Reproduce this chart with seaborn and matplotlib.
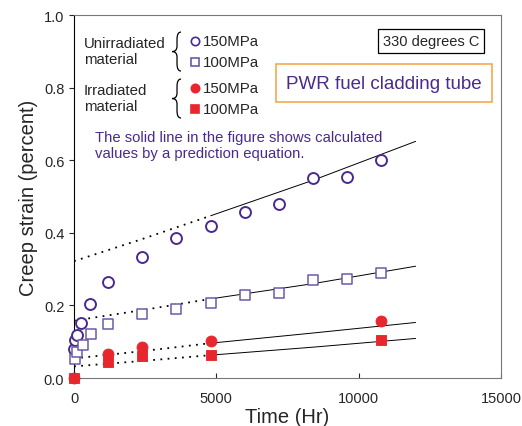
import pandas as pd
import matplotlib.pyplot as plt
import seaborn as sns
import numpy as np
from matplotlib.path import Path
from matplotlib.patches import PathPatch

# measured creep strain (percent) vs time (hr)
t_unirr_150 = [0, 50, 100, 250, 550, 1200, 2400, 3600, 4800, 6000, 7200, 8400, 9600, 10800]
e_unirr_150 = [0.080, 0.105, 0.118, 0.152, 0.205, 0.265, 0.333, 0.386, 0.419, 0.458, 0.479, 0.551, 0.555, 0.600]
t_unirr_100 = [50, 100, 300, 600, 1200, 2400, 3600, 4800, 6000, 7200, 8400, 9600, 10800]
e_unirr_100 = [0.052, 0.073, 0.092, 0.121, 0.148, 0.175, 0.189, 0.208, 0.229, 0.235, 0.271, 0.274, 0.290]
t_irr_150 = [0, 1200, 2400, 4800, 10800]
e_irr_150 = [0.0, 0.066, 0.086, 0.103, 0.158]
t_irr_100 = [0, 1200, 2400, 4800, 10800]
e_irr_100 = [0.0, 0.043, 0.061, 0.063, 0.105]

# prediction equation curves (dotted below 4800 hr, solid above)
t_pred_lo = [0, 2400, 4800]
t_pred_hi = [4800, 8400, 12000]
pred_lo = {'u150': [0.322, 0.383, 0.447], 'u100': [0.158, 0.187, 0.218],
           'i150': [0.054, 0.074, 0.096], 'i100': [0.032, 0.047, 0.063]}
pred_hi = {'u150': [0.447, 0.545, 0.652], 'u100': [0.218, 0.260, 0.308],
           'i150': [0.096, 0.124, 0.153], 'i100': [0.063, 0.085, 0.109]}

purple = '#4a2a8e'
purple_sq = '#6b5aa8'
red = '#e8262d'

sns.set_style("ticks")
plt.rcParams['font.family'] = ['Liberation Sans', 'DejaVu Sans']

fig = plt.figure(figsize=(5.22, 4.27), dpi=100)
ax = fig.add_axes([0.1418, 0.1124, 0.818, 0.850])

for key in pred_lo:
    sns.lineplot(x=t_pred_lo, y=pred_lo[key], ax=ax, color='black', lw=1.3,
                 linestyle=(0, (1, 3)))
    sns.lineplot(x=t_pred_hi, y=pred_hi[key], ax=ax, color='black', lw=0.7)

ms = 62
sns.scatterplot(x=t_unirr_150, y=e_unirr_150, ax=ax, marker='o', s=ms,
                facecolor='white', edgecolor=purple, linewidth=1.4, zorder=3, clip_on=False)
sns.scatterplot(x=t_unirr_100, y=e_unirr_100, ax=ax, marker='s', s=ms,
                facecolor='white', edgecolor=purple_sq, linewidth=1.1, zorder=3, clip_on=False)
sns.scatterplot(x=t_irr_100, y=e_irr_100, ax=ax, marker='s', s=ms,
                color=red, edgecolor=red, zorder=3, clip_on=False)
sns.scatterplot(x=t_irr_150, y=e_irr_150, ax=ax, marker='o', s=ms,
                color=red, edgecolor=red, zorder=3, clip_on=False)

ax.set_xlim(0, 15000)
ax.set_ylim(0, 1.0)
ax.set_xticks([0, 5000, 10000, 15000])
ax.set_yticks([0, 0.2, 0.4, 0.6, 0.8, 1.0])
ax.set_yticklabels(['0.0', '0.2', '0.4', '0.6', '0.8', '1.0'])
ax.tick_params(axis='x', direction='in', labelsize=10.5, pad=9)
ax.tick_params(axis='y', direction='out', labelsize=10.5)
for s in ['top', 'right', 'bottom']:
    ax.spines[s].set_color('#777777')
ax.spines['left'].set_color('black')
ax.set_xlabel('Time (Hr)', fontsize=14.5, labelpad=2)
ax.set_ylabel('Creep strain (percent)', fontsize=14.5)

# hand-drawn legend
tr = ax.transAxes
def fx(px): return (px - 74) / 427
def fy(py): return (379 - py) / 363

def brace(px, top, bot):
    x0, x1 = fx(px), fx(px - 5)
    y0, y1 = fy(top), fy(bot)
    ym = (y0 + y1) / 2
    w = fx(px + 4) - fx(px)
    verts = [(x0 + w, y0), (x0, y0), (x0, y0 - 0.02),
             (x0, ym + 0.015), (x0, ym), (x1, ym),
             (x0, ym), (x0, ym - 0.015),
             (x0, y1 + 0.02), (x0, y1), (x0 + w, y1)]
    codes = [Path.MOVETO, Path.CURVE3, Path.CURVE3,
             Path.LINETO, Path.CURVE3, Path.CURVE3,
             Path.CURVE3, Path.CURVE3,
             Path.LINETO, Path.CURVE3, Path.CURVE3]
    ax.add_patch(PathPatch(Path(verts, codes), fc='none', ec='black', lw=0.9,
                           transform=tr, clip_on=False))

ax.text(fx(84), fy(52), 'Unirradiated\nmaterial', transform=tr, fontsize=10.8,
        va='center', linespacing=1.15)
ax.text(fx(84), fy(99), 'Irradiated\nmaterial', transform=tr, fontsize=10.8,
        va='center', linespacing=1.15)
brace(177, 33, 72)
brace(177, 80, 119)
leg = [(42, 'o', 'white', purple, '150MPa'), (63, 's', 'white', purple_sq, '100MPa'),
       (89, 'o', red, red, '150MPa'), (110, 's', red, red, '100MPa')]
for py, m, fc, ec, lab in leg:
    ax.plot([fx(195)], [fy(py)], marker=m, ms=6 if m == 'o' else 5.5, mfc=fc,
            mec=ec, mew=1.2, transform=tr, clip_on=False)
    ax.text(fx(203), fy(py), lab, transform=tr, fontsize=10.8, va='center')

ax.text(fx(431), fy(42), '330 degrees C', transform=tr, fontsize=10.5,
        ha='center', va='center',
        bbox=dict(boxstyle='square,pad=0.35', fc='white', ec='black', lw=0.9))
ax.text(fx(384), fy(84), 'PWR fuel cladding tube', transform=tr, fontsize=13.5,
        ha='center', va='center', color=purple,
        bbox=dict(boxstyle='square,pad=0.55', fc='white', ec='#f5a040', lw=1.1))
ax.text(fx(95), fy(146), 'The solid line in the figure shows calculated\n'
        'values by a prediction equation.', transform=tr, fontsize=10.7,
        va='center', color=purple, linespacing=1.1)

plt.savefig('out.png', dpi=100)
